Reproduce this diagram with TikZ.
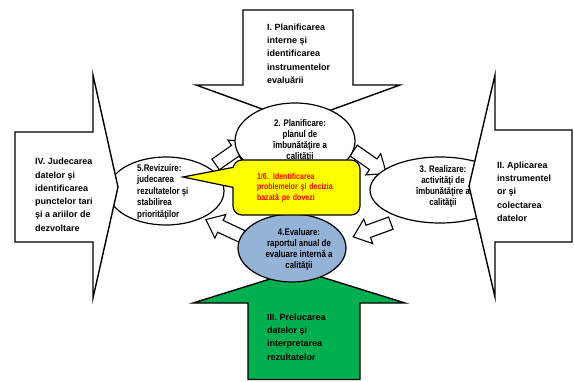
\documentclass[tikz,border=0pt]{standalone}
\usepackage{fontspec}
\setmainfont{Liberation Sans}
\newfontfamily\narrowsans[FakeStretch=0.82]{Liberation Sans}
\usetikzlibrary{
    shapes.geometric,
    positioning,
    calc
}

\begin{document}
\begin{tikzpicture}[x=1pt, y=-1pt,
    bigarrow/.style={draw=black, line width=1.4pt, fill=white, line join=miter},
    cyclearrow/.style={draw=black, line width=1.1pt, fill=white, line join=miter},
    phase/.style={ellipse, draw=black, line width=1.2pt, fill=white, inner sep=0pt},
    stagetext/.style={font=\fontsize{9}{13.3}\selectfont\bfseries, align=left, anchor=north west, inner sep=0pt},
    phasetext/.style={font=\narrowsans\fontsize{9.6}{11}\selectfont\bfseries, align=center, anchor=north, inner sep=0pt},
    notebox/.style={draw=black, line width=1.2pt, fill=noteyellow, rounded corners=9pt,
        minimum width=127pt, minimum height=55pt, text width=79pt, align=left,
        text=notered, font=\narrowsans\fontsize{8.6}{10.5}\selectfont\bfseries}
]
% Define palette
\definecolor{evalblue}{RGB}{149, 179, 215}
\definecolor{stagegreen}{RGB}{0, 176, 80}
\definecolor{noteyellow}{RGB}{255, 255, 0}
\definecolor{notered}{RGB}{255, 0, 0}

\useasboundingbox (0,0) rectangle (574,381);
\fill[white] (0,0) rectangle (574,381);

% big arrows, top and bottom
\draw[bigarrow] (243,10) -- (353,10) -- (353,85) -- (400,85) -- (298,122) -- (196,85) -- (243,85) -- cycle;
\draw[bigarrow, fill=stagegreen] (248,379.5) -- (248,303) -- (193,303) -- (299,270) -- (405,303) -- (360,303) -- (360,379.5) -- cycle;

% cycle arrows
\foreach \cx/\cy/\ang in {232/153/35, 370/162/-35, 372/230/200, 224/228/155} {
    \draw[cyclearrow, shift={(\cx,\cy)}, rotate=\ang]
        (-20,-6.5) -- (4,-6.5) -- (4,-13) -- (20,0) -- (4,13) -- (4,6.5) -- (-20,6.5) -- cycle;
}

% phases
\node[phase, minimum width=120pt, minimum height=76pt] (plan) at (295,141) {};
\node[phase, fill=evalblue, minimum width=108pt, minimum height=68pt] (eval) at (292,248) {};
\node[phase, minimum width=140pt, minimum height=66pt] (real) at (440,190) {};
\node[phase, minimum width=116pt, minimum height=68pt] (rev) at (166,191) {};

\node[phasetext] (plantext) at (300,119.5) {2. Planificare:\\planul de\\îmbunătăţire a\\calităţii};
\node[phasetext] (realtext) at (443,165.5) {3. Realizare:\\activităţi de\\îmbunătăţire a\\calităţii};
\node[phasetext] (evaltext) at (299,228.5) {4.Evaluare:\\raportul anual de\\evaluare internă a\\calităţii};
\begin{scope}
    \clip (rev.center) ellipse [x radius=57pt, y radius=33pt];
    \node[phasetext, font=\narrowsans\fontsize{9.6}{11.6}\selectfont\bfseries, align=left, anchor=north west]
        (revtext) at (137,164) {5.Revizuire:\\judecarea\\rezultatelor şi\\stabilirea\\priorităţilor};
\end{scope}

% big arrows, right and left
\draw[bigarrow] (572,130) -- (495,130) -- (495,75) -- (469,186) -- (495,297) -- (495,242) -- (572,242) -- cycle;
\draw[bigarrow] (15,132) -- (93,132) -- (93,75) -- (118,187) -- (93,298) -- (93,242) -- (15,242) -- cycle;

\node[stagetext] (planstage) at (267,23.5) {I. Planificarea\\interne şi\\identificarea\\instrumentelor\\evaluării};
\node[stagetext] (applystage) at (497,161.5) {II. Aplicarea\\instrumentel\\or şi\\colectarea\\datelor};
\node[stagetext] (procstage) at (267,313.5) {III. Prelucarea\\datelor şi\\interpretarea\\rezultatelor};
\node[stagetext] (judgestage) at (35,158) {IV. Judecarea\\datelor şi\\identificarea\\punctelor tari\\şi a ariilor de\\dezvoltare};

% callout
\node[notebox] (note) at (296.5,187.5) {1/6. Identificarea\\problemelor şi decizia\\bazată pe dovezi};
\coordinate (notetip) at (183,177);
\fill[noteyellow] (notetip) -- ($(note.north west)+(2.2,8)$) -- ($(note.north west)+(2.2,28)$) -- cycle;
\draw[line width=1.2pt] ($(note.north west)+(0.6,8)$) -- (notetip) -- ($(note.north west)+(0.6,28)$);
\end{tikzpicture}
\end{document}
